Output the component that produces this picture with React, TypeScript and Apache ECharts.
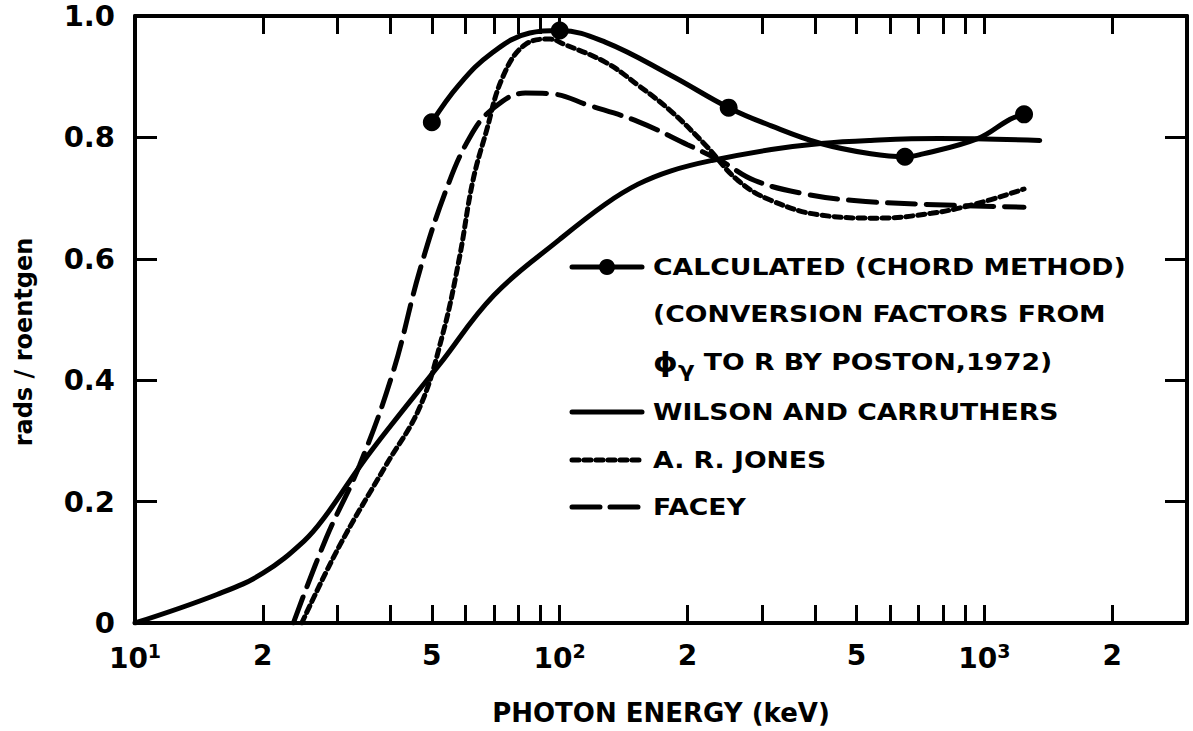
import React, { useEffect, useRef } from "react";
import * as echarts from "echarts";

// ---- data (photon energy in keV, rads/roentgen) ----
const wilsonE = [10, 15.6, 20, 25, 28, 34, 40, 52, 70, 100, 128, 153, 183, 228, 315, 412, 540, 780, 1350];
const wilsonV = [0, 0.047, 0.082, 0.135, 0.175, 0.26, 0.325, 0.425, 0.54, 0.632, 0.69, 0.723, 0.745, 0.762, 0.78, 0.79, 0.795, 0.798, 0.795];

const jonesE = [24.7, 30.3, 39, 46.8, 53, 58, 62.4, 67, 73.5, 83, 95, 102, 128, 153, 183, 220, 263, 315, 412, 560, 750, 950, 1240];
const jonesV = [0, 0.127, 0.26, 0.355, 0.475, 0.6, 0.727, 0.807, 0.9, 0.953, 0.962, 0.954, 0.924, 0.886, 0.843, 0.788, 0.729, 0.696, 0.672, 0.667, 0.675, 0.69, 0.715];

const faceyE = [23.6, 28.2, 33.8, 40.5, 46.8, 54, 61.4, 69.5, 83, 95, 117, 153, 200, 240, 288, 377, 493, 708, 1240];
const faceyV = [0, 0.14, 0.26, 0.413, 0.58, 0.713, 0.8, 0.847, 0.873, 0.872, 0.853, 0.826, 0.788, 0.761, 0.729, 0.707, 0.696, 0.69, 0.685];

const calcCurveE = [50, 58, 69.5, 85, 100, 128, 183, 250, 315, 412, 540, 650, 708, 964, 1150, 1240];
const calcCurveV = [0.825, 0.887, 0.94, 0.972, 0.976, 0.957, 0.902, 0.849, 0.819, 0.79, 0.773, 0.768, 0.772, 0.798, 0.83, 0.838];
const calcDotE = [50, 100, 250, 650, 1240];
const calcDotV = [0.825, 0.976, 0.849, 0.768, 0.838];

// ---- axis ticks and labels ----
const xMin = 10;
const xMax = 3000;
const xTickValues = [10, 20, 30, 40, 50, 60, 70, 80, 90, 100, 200, 300, 400, 500, 600, 700, 800, 900, 1000, 2000];
const xLabelValues = [10, 20, 50, 100, 200, 500, 1000, 2000];
const xLabelTexts = ["10^1", "2", "5", "10^2", "2", "5", "10^3", "2"];
const yTickValues = [0, 0.2, 0.4, 0.6, 0.8, 1.0];
const yLabelTexts = ["0", "0.2", "0.4", "0.6", "0.8", "1.0"];

const legendRows = [
  { kind: "dot", text: "CALCULATED (CHORD METHOD)" },
  { kind: "none", text: "(CONVERSION FACTORS FROM" },
  { kind: "phi", text: " TO R BY POSTON,1972)" },
  { kind: "solid", text: "WILSON AND CARRUTHERS" },
  { kind: "dotted", text: "A. R. JONES" },
  { kind: "dashed", text: "FACEY" },
];

const FONT = "DejaVu Sans";
const pair = (xs: number[], ys: number[]) => xs.map((x, i) => [x, ys[i]]);

export default function App() {
  const ref = useRef<HTMLDivElement>(null);
  useEffect(() => {
    if (!ref.current) return;
    const chart = echarts.init(ref.current, null, { renderer: "svg" });

    const logMin = Math.log10(xMin);
    const logMax = Math.log10(xMax);
    const tickPos = xTickValues.map((v) => Math.log10(v));
    const labelPos = xLabelValues.map((v) => Math.log10(v));

    const fmtX = (val: number) => {
      let best = 0;
      let bd = Infinity;
      labelPos.forEach((p, i) => {
        const d = Math.abs(p - val);
        if (d < bd) { bd = d; best = i; }
      });
      const t = xLabelTexts[best];
      if (t.indexOf("^") >= 0) {
        const [b, s] = t.split("^");
        return `{b|${b}}{s|${s}}`;
      }
      return `{b|${t}}`;
    };

    const axisLine = { show: true, lineStyle: { color: "#000", width: 4 } };
    const tickStyle = { color: "#000", width: 3 };

    const legendX1 = 572;
    const legendX2 = 642;
    const textX = 653;
    const textScale = 1.16;
    const rowY = [267, 314, 362, 412, 460, 507];
    const graphics: any[] = [];
    legendRows.forEach((r, i) => {
      const y = rowY[i];
      if (r.kind === "dot" || r.kind === "solid" || r.kind === "dotted" || r.kind === "dashed") {
        graphics.push({
          type: "line",
          shape: { x1: legendX1, y1: y, x2: legendX2, y2: y },
          style: {
            stroke: "#000",
            lineWidth: 5,
            lineCap: "round",
            lineDash: r.kind === "dotted" ? [7, 5] : r.kind === "dashed" ? [28, 10] : null,
          },
        });
      }
      if (r.kind === "dot") {
        graphics.push({ type: "circle", shape: { cx: (legendX1 + legendX2) / 2, cy: y, r: 8 }, style: { fill: "#000" } });
      }
      if (r.kind === "phi") {
        graphics.push({
          type: "text",
          x: textX,
          y,
          scaleX: textScale,
          style: {
            text: `{p|ϕ}{g|γ}{t|${r.text}}`,
            verticalAlign: "middle",
            rich: {
              p: { fontFamily: FONT, fontWeight: "bold", fontSize: 27, fill: "#000" },
              g: { fontFamily: FONT, fontWeight: "bold", fontSize: 21, fill: "#000", padding: [16, 0, 0, 0] },
              t: { fontFamily: FONT, fontWeight: "bold", fontSize: 23, fill: "#000" },
            },
          },
        });
      } else {
        graphics.push({
          type: "text",
          x: textX,
          y,
          scaleX: textScale,
          style: {
            text: r.text,
            fontFamily: FONT,
            fontWeight: "bold",
            fontSize: 23,
            fill: "#000",
            verticalAlign: "middle",
          },
        });
      }
    });

    // y axis title, rotated
    graphics.push({
      type: "text",
      x: 24,
      y: 342,
      rotation: Math.PI / 2,
      style: {
        text: "rads / roentgen",
        fontFamily: FONT,
        fontWeight: "bold",
        fontSize: 24,
        fill: "#000",
        align: "center",
        verticalAlign: "middle",
      },
    });

    chart.setOption({
      animation: false,
      backgroundColor: "#fff",
      grid: { left: 135, right: 6, top: 16, bottom: 104 },
      xAxis: [
        { type: "log", logBase: 10, min: xMin, max: xMax, show: false },
        {
          type: "value",
          min: logMin,
          max: logMax,
          position: "bottom",
          name: "PHOTON ENERGY (keV)",
          nameLocation: "middle",
          nameGap: 77,
          nameTextStyle: { fontFamily: FONT, fontWeight: "bold", fontSize: 26, color: "#000" },
          axisLine,
          axisTick: { show: true, inside: true, length: 18, lineStyle: tickStyle, customValues: tickPos },
          axisLabel: {
            show: true,
            margin: 18,
            customValues: labelPos,
            formatter: fmtX,
            rich: {
              b: { fontFamily: FONT, fontWeight: "bold", fontSize: 28, color: "#000" },
              s: { fontFamily: FONT, fontWeight: "bold", fontSize: 19, color: "#000", padding: [0, 0, 15, 0] },
            },
          },
          splitLine: { show: false },
        },
        {
          type: "value",
          min: logMin,
          max: logMax,
          position: "top",
          axisLine,
          axisTick: { show: true, inside: true, length: 18, lineStyle: tickStyle, customValues: tickPos },
          axisLabel: { show: false },
          splitLine: { show: false },
        },
      ],
      yAxis: [
        {
          type: "value",
          min: 0,
          max: 1,
          interval: 0.2,
          position: "left",
          axisLine,
          axisTick: { show: true, inside: true, length: 22, lineStyle: tickStyle },
          axisLabel: {
            margin: 20,
            fontFamily: FONT,
            fontWeight: "bold",
            fontSize: 29,
            lineHeight: 28,
            color: "#000",
            formatter: (v: number) => {
              const i = yTickValues.findIndex((t) => Math.abs(t - v) < 1e-6);
              return i >= 0 ? yLabelTexts[i] : "";
            },
          },
          splitLine: { show: false },
        },
        {
          type: "value",
          min: 0,
          max: 1,
          interval: 0.2,
          position: "right",
          axisLine,
          axisTick: { show: true, inside: true, length: 22, lineStyle: tickStyle },
          axisLabel: { show: false },
          splitLine: { show: false },
        },
      ],
      series: [
        {
          name: "WILSON AND CARRUTHERS",
          type: "line",
          xAxisIndex: 0,
          yAxisIndex: 0,
          data: pair(wilsonE, wilsonV),
          smooth: 0.4,
          showSymbol: false,
          lineStyle: { color: "#000", width: 5, cap: "round" },
        },
        {
          name: "A. R. JONES",
          type: "line",
          xAxisIndex: 0,
          yAxisIndex: 0,
          data: pair(jonesE, jonesV),
          smooth: 0.4,
          showSymbol: false,
          lineStyle: { color: "#000", width: 5, type: [7, 5], cap: "round" },
        },
        {
          name: "FACEY",
          type: "line",
          xAxisIndex: 0,
          yAxisIndex: 0,
          data: pair(faceyE, faceyV),
          smooth: 0.4,
          showSymbol: false,
          lineStyle: { color: "#000", width: 5, type: [28, 11], cap: "round" },
        },
        {
          name: "CALCULATED (CHORD METHOD)",
          type: "line",
          xAxisIndex: 0,
          yAxisIndex: 0,
          data: pair(calcCurveE, calcCurveV),
          smooth: 0.4,
          showSymbol: false,
          lineStyle: { color: "#000", width: 5, cap: "round" },
        },
        {
          name: "CALCULATED points",
          type: "scatter",
          xAxisIndex: 0,
          yAxisIndex: 0,
          z: 5,
          data: pair(calcDotE, calcDotV),
          symbol: "circle",
          symbolSize: 18,
          itemStyle: { color: "#000", opacity: 1 },
        },
      ],
      graphic: graphics,
    });

    return () => chart.dispose();
  }, []);

  return (
    <div
      ref={ref}
      style={{ position: "fixed", left: 0, top: 0, width: 1193, height: 731, background: "#fff" }}
    />
  );
}
